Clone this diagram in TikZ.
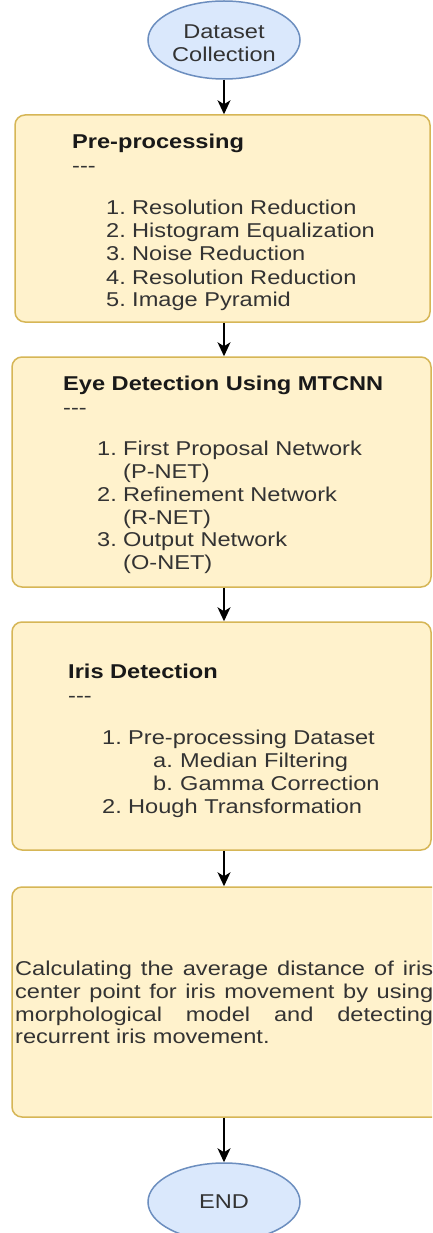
\documentclass[tikz,border=0pt]{standalone}
\usepackage{fontspec}
\setmainfont[FakeStretch=1.18]{Liberation Sans}
\usetikzlibrary{shapes.geometric,arrows.meta}
\definecolor{boxfill}{HTML}{FFF2CC}
\definecolor{boxdraw}{HTML}{D6B656}
\definecolor{ellfill}{HTML}{DAE8FC}
\definecolor{elldraw}{HTML}{6C8EBF}
\definecolor{txt}{HTML}{333333}
\tikzset{
  procbox/.style={draw=boxdraw, fill=boxfill, line width=1.5pt, rounded corners=10pt, inner sep=0pt},
  term/.style={ellipse, draw=elldraw, fill=ellfill, line width=1.5pt, inner sep=0pt, minimum width=152pt, minimum height=78pt},
  lbl/.style={anchor=base west, inner sep=0pt, text=txt, font=\fontsize{20}{22.8}\selectfont},
  ttl/.style={anchor=base west, inner sep=0pt, text=black!90, font=\fontsize{20}{22.8}\selectfont\bfseries},
  ctr/.style={anchor=base, inner sep=0pt, text=txt, font=\fontsize{20}{22.8}\selectfont},
  flow/.style={-{Stealth[length=14pt,width=13pt,inset=4pt]}, line width=1.5pt, black}
}
\begin{document}
\begin{tikzpicture}[x=1pt,y=-1pt]
\useasboundingbox (0,0) rectangle (432,1233);
\clip (0,0) rectangle (432,1233);
\fill[white] (0,0) rectangle (432,1233);

% start
\node[term] (start) at (224,40) {};
\node[ctr] (startA) at (224,39) {Dataset};
\node[ctr] (startB) at (224,62) {Collection};

% box 1
\node[procbox, minimum width=415pt, minimum height=207pt] (b1) at (222.5,218.5) {};
\node[ttl] (t1) at (72,149) {Pre-processing};
\node[lbl] (d1) at (72,172.5) {-{}-{}-};
\node[lbl] (n11) at (106,215) {1.};
\node[lbl] (i11) at (132,215) {Resolution Reduction};
\node[lbl] (n12) at (106,238) {2.};
\node[lbl] (i12) at (132,238) {Histogram Equalization};
\node[lbl] (n13) at (106,261) {3.};
\node[lbl] (i13) at (132,261) {Noise Reduction};
\node[lbl] (n14) at (106,284) {4.};
\node[lbl] (i14) at (132,284) {Resolution Reduction};
\node[lbl] (n15) at (106,306) {5.};
\node[lbl] (i15) at (132,306) {Image Pyramid};

% box 2
\node[procbox, minimum width=419pt, minimum height=230pt] (b2) at (221.5,472) {};
\node[ttl] (t2) at (63,390) {Eye Detection Using MTCNN};
\node[lbl] (d2) at (63,414) {-{}-{}-};
\node[lbl] (n21) at (97,455) {1.};
\node[lbl] (i21) at (123,455) {First Proposal Network};
\node[lbl] (i21b) at (123,478) {(P-NET)};
\node[lbl] (n22) at (97,501) {2.};
\node[lbl] (i22) at (123,501) {Refinement Network};
\node[lbl] (i22b) at (123,524) {(R-NET)};
\node[lbl] (n23) at (97,546) {3.};
\node[lbl] (i23) at (123,546) {Output Network};
\node[lbl] (i23b) at (123,569) {(O-NET)};

% box 3
\node[procbox, minimum width=419pt, minimum height=228pt] (b3) at (221.5,736) {};
\node[ttl] (t3) at (68,678) {Iris Detection};
\node[lbl] (d3) at (68,702) {-{}-{}-};
\node[lbl] (n31) at (102,744) {1.};
\node[lbl] (i31) at (128,744) {Pre-processing Dataset};
\node[lbl] (n31a) at (153,767) {a.};
\node[lbl] (i31a) at (180,767) {Median Filtering};
\node[lbl] (n31b) at (153,790) {b.};
\node[lbl] (i31b) at (180,790) {Gamma Correction};
\node[lbl] (n32) at (102,813) {2.};
\node[lbl] (i32) at (128,813) {Hough Transformation};

% box 4
\node[procbox, minimum width=434pt, minimum height=230pt] (b4) at (229,1002) {};
\node[lbl] (p1) at (15,975) {\makebox[418pt][s]{Calculating the average distance of iris}};
\node[lbl] (p2) at (15,998) {\makebox[418pt][s]{center point for iris movement by using}};
\node[lbl] (p3) at (15,1021) {\makebox[418pt][s]{morphological model and detecting}};
\node[lbl] (p4) at (15,1043) {recurrent iris movement.};

% end
\node[term] (stop) at (224,1202) {};
\node[ctr] (stopT) at (224,1208) {END};

% connectors
\draw[flow] (start.south) -- (start.south |- b1.north);
\draw[flow] (start.south |- b1.south) -- (start.south |- b2.north);
\draw[flow] (start.south |- b2.south) -- (start.south |- b3.north);
\draw[flow] (start.south |- b3.south) -- (start.south |- b4.north);
\draw[flow] (start.south |- b4.south) -- (stop.north);
\end{tikzpicture}
\end{document}
